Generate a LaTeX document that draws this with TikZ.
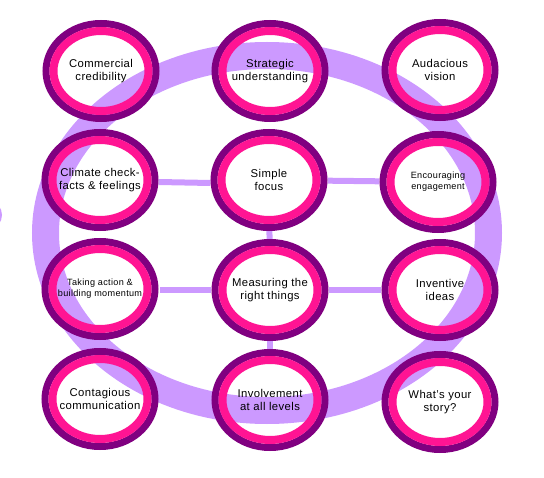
\documentclass[tikz,border=0pt]{standalone}
\usepackage{fontspec}
\setmainfont[LetterSpace=3.5]{Liberation Sans}
\usetikzlibrary{shapes.geometric}
\definecolor{pur}{HTML}{800080}
\definecolor{pnk}{HTML}{FF1493}
\definecolor{lav}{HTML}{CC99FF}
\tikzset{
  bub/.style={ellipse, draw=none, minimum width=117pt, minimum height=102pt,
    inner sep=0pt, align=center, text=black,
    font=\fontsize{11.3}{13}\selectfont},
  small/.style={font=\fontsize{9.1}{11.2}\selectfont},
  link/.style={lav, line width=6pt},
  outring/.style={pur, line width=7pt},
  inring/.style={pnk, line width=8pt}
}
\begin{document}
\begin{tikzpicture}[x=1pt,y=-1pt]
\useasboundingbox (0,0) rectangle (544,478);
\clip (0,0) rectangle (544,478);
% big ring
\draw[lav, line width=27pt] (267,233) ellipse [x radius=221.5pt, y radius=177.5pt];
% left sliver
\fill[lav] (-9,215) ellipse [x radius=11pt, y radius=13pt];
% nodes
\node[bub] (cc) at (101,71) {Commercial\\credibility};
\node[bub] (su) at (270,71) {Strategic\\understanding};
\node[bub] (av) at (440,70) {Audacious\\vision};
\node[bub] (cf) at (100,180) {Climate check-\\facts \& feelings};
\node[bub] (sf) at (269,180) {Simple\\focus};
\node[bub,small] (ee) at (438,182) {Encouraging\\engagement};
\node[bub,small] (ta) at (100,289) {Taking action \&\\building momentum};
\node[bub] (mt) at (270,290) {Measuring the\\right things};
\node[bub] (ii) at (440,290) {Inventive\\ideas};
\node[bub] (co) at (100,399) {Contagious\\communication};
\node[bub] (il) at (270,400) {Involvement\\at all levels};
\node[bub] (ws) at (440,402) {What’s your\\story?};
% connectors
\draw[link] ([yshift=-2pt]cf.east) -- ([yshift=-3pt]sf.west);
\draw[link] (sf) -- (ee);
\draw[link] ([yshift=-1pt]ta.east) -- (mt.west);
\draw[link] (mt) -- (ii);
\draw[link] (sf) -- (mt);
\draw[link] (mt) -- (il);
% rings
\foreach \n in {cc,su,av,cf,sf,ee,ta,mt,ii,co,il,ws}{
  \draw[outring] (\n.center) ellipse [x radius=55pt, y radius=47.5pt];
  \draw[inring] (\n.center) ellipse [x radius=47.5pt, y radius=40pt];
}
\end{tikzpicture}
\end{document}
